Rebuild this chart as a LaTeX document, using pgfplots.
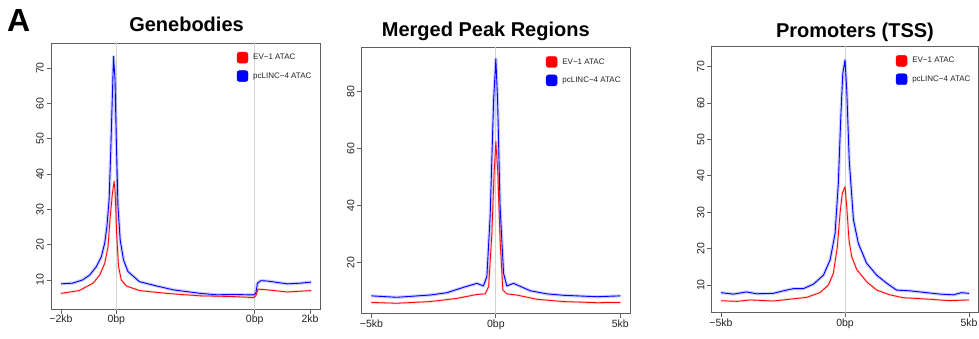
\documentclass[border=0pt]{standalone}
\usepackage{fontspec}
\setmainfont{Liberation Sans}
\usepackage{pgfplots}
\usepackage{pgfplotstable}
\pgfplotsset{compat=1.18}

\definecolor{evred}{RGB}{255,0,0}
\definecolor{pcblue}{RGB}{0,0,255}
\definecolor{boxgray}{RGB}{95,95,95}
\definecolor{vgray}{RGB}{212,212,212}
\definecolor{txt}{RGB}{35,35,35}

% Genebodies: x units: -2kb=0, TSS=1, TES=3.5, +2kb=4.5
\pgfplotstableread{
x y
0 8.9
0.21 9.1
0.39 10
0.52 11.4
0.64 13.8
0.73 16.6
0.79 20.4
0.83 25.1
0.87 32.7
0.90 46.8
0.93 62.9
0.95 73.3
0.976 66.7
1.0 49.7
1.03 30.8
1.07 21.3
1.13 15.7
1.21 12.4
1.42 9.5
1.73 8.3
2.03 7.2
2.52 6.2
2.82 5.8
3.12 5.9
3.36 5.8
3.48 5.8
3.52 6.2
3.55 9.1
3.61 9.8
3.73 9.7
4.09 8.9
4.33 9.1
4.52 9.4
}\gbblue
\pgfplotstableread{
x y
0 6.2
0.33 7.0
0.58 9.1
0.70 11.4
0.79 14.7
0.85 19.4
0.89 27.9
0.93 34.6
0.96 37.9
0.98 34.6
1.006 23.2
1.04 13.8
1.09 10
1.18 8.3
1.42 7.0
1.91 6.2
2.52 5.5
3.12 5.3
3.48 5.0
3.52 5.5
3.56 7.4
3.73 7.2
4.09 6.6
4.52 7.0
}\gbred

% Merged peak regions (kb)
\pgfplotstableread{
x y
-5 8.2
-3.98 7.7
-2.64 8.5
-1.97 9.3
-1.30 11.2
-0.76 12.6
-0.50 11.7
-0.36 15
-0.23 36
-0.09 77
0 91.5
0.07 77
0.17 39.6
0.31 16.1
0.44 11.7
0.71 12.6
1.38 10
2.05 8.9
2.72 8.4
4.06 7.9
5 8.2
}\mpblue
\pgfplotstableread{
x y
-5 5.9
-3.98 5.6
-2.64 6.2
-1.57 7.3
-0.76 8.7
-0.43 8.9
-0.29 11.4
-0.16 30.2
-0.07 51.3
0 62.4
0.08 51.3
0.17 27.9
0.28 10.3
0.44 8.9
0.84 8.5
1.65 7.0
2.72 6.2
4.06 5.8
5 5.9
}\mpred

% Promoters (kb)
\pgfplotstableread{
x y
-5 7.9
-4.5 7.5
-3.97 8.1
-3.56 7.6
-2.89 7.7
-2.49 8.4
-2.08 9.0
-1.68 9.0
-1.28 10.2
-0.87 12.7
-0.60 16.9
-0.40 24.2
-0.27 37.9
-0.17 56.2
-0.09 68.1
0 71.8
0.07 63.6
0.17 44.3
0.34 27.9
0.54 21.4
0.87 16.0
1.28 12.7
1.68 10.5
2.08 8.6
2.62 8.4
3.16 8.0
3.83 7.5
4.37 7.3
4.70 7.9
5 7.7
}\prblue
\pgfplotstableread{
x y
-5 5.7
-4.37 5.5
-3.83 5.9
-2.89 5.6
-2.22 6.1
-1.55 6.6
-1.01 7.9
-0.67 10
-0.47 13.2
-0.31 20.5
-0.20 29.7
-0.11 35.2
0 37.0
0.07 31.5
0.16 22.4
0.27 17.8
0.47 14.3
0.87 10.9
1.28 8.6
1.81 7.3
2.35 6.5
3.16 6.2
4.23 5.7
5 5.9
}\prred

\pgfplotsset{
  rstyle/.style={
    scale only axis,
    axis line style={boxgray, line width=0.8pt},
    tick style={boxgray, line width=0.8pt},
    tick align=outside,
    major tick length=4.5pt,
    xtick pos=bottom, ytick pos=left,
    ticklabel style={font=\fontsize{10.5}{12}\selectfont, text=txt},
    /pgf/number format/assume math mode=true,
    yticklabel style={rotate=90, anchor=south, inner sep=2.5pt},
    xticklabel style={anchor=north, inner sep=1.5pt},
    legend style={draw=none, fill=none, font=\fontsize{8}{9}\selectfont, text=txt,
      row sep=7pt, column sep=4pt, anchor=north west, inner sep=0pt, nodes={inner sep=1pt}},
    legend cell align=left,
  },
  halob/.style={pcblue, line width=3.2pt, opacity=0.2, forget plot, line join=round},
  coreb/.style={pcblue, line width=0.9pt, forget plot, line join=round},
  halor/.style={evred, line width=2.2pt, opacity=0.2, forget plot, line join=round},
  corer/.style={evred, line width=0.8pt, forget plot, line join=round},
  vline/.style={vgray, line width=0.9pt, forget plot},
}

\newcommand{\addlegs}{%
  \addlegendimage{legend image code/.code={\fill[evred, rounded corners=2.5pt] (0pt,-5.5pt) rectangle (11pt,5.5pt);}}
  \addlegendentry{EV−1 ATAC}
  \addlegendimage{legend image code/.code={\fill[pcblue, rounded corners=2.5pt] (0pt,-5.5pt) rectangle (11pt,5.5pt);}}
  \addlegendentry{pcLINC−4 ATAC}
}

\begin{document}
\begin{tikzpicture}[x=1pt,y=1pt]
\useasboundingbox (0,0) rectangle (979,338);

\node[anchor=base west, inner sep=0pt, font=\fontsize{32}{34}\selectfont\bfseries] at (7,306) {A};
\node[anchor=base, inner sep=0pt, font=\fontsize{20}{22}\selectfont\bfseries] at (186.5,306) {Genebodies};
\node[anchor=base, inner sep=0pt, font=\fontsize{20}{22}\selectfont\bfseries] at (485.8,301) {Merged Peak Regions};
\node[anchor=base, inner sep=0pt, font=\fontsize{20}{22}\selectfont\bfseries] at (855,300.5) {Promoters (TSS)};

% Panel 1
\begin{axis}[rstyle, at={(51pt,29pt)}, anchor=south west, width=269pt, height=266pt,
  xmin=-0.18, xmax=4.68, ymin=1.78, ymax=77.1,
  xtick={0,1,3.5,4.5}, xticklabels={−2kb,0bp,0bp,2kb},
  ytick={10,20,30,40,50,60,70},
  legend style={at={(0.69,0.967)}}]
\addplot[vline] coordinates {(1,0) (1,100)};
\addplot[vline] coordinates {(3.5,0) (3.5,100)};
\addplot[halob] table[x=x,y=y] {\gbblue};
\addplot[coreb] table[x=x,y=y] {\gbblue};
\addplot[halor] table[x=x,y=y] {\gbred};
\addplot[corer] table[x=x,y=y] {\gbred};
\addlegs
\end{axis}

% Panel 2
\begin{axis}[rstyle, at={(361.7pt,24.7pt)}, anchor=south west, width=268.3pt, height=266pt,
  xmin=-5.39, xmax=5.39, ymin=2.07, ymax=95.6,
  xtick={-5,0,5}, xticklabels={−5kb,0bp,5kb},
  ytick={20,40,60,80},
  legend style={at={(0.686,0.967)}}]
\addplot[vline] coordinates {(0,0) (0,120)};
\addplot[halob] table[x=x,y=y] {\mpblue};
\addplot[coreb] table[x=x,y=y] {\mpblue};
\addplot[halor] table[x=x,y=y] {\mpred};
\addplot[corer] table[x=x,y=y] {\mpred};
\addlegs
\end{axis}

% Panel 3
\begin{axis}[rstyle, at={(711.7pt,25.7pt)}, anchor=south west, width=266.6pt, height=265.6pt,
  xmin=-5.375, xmax=5.375, ymin=2.5, ymax=75.5,
  xtick={-5,0,5}, xticklabels={−5kb,0bp,5kb},
  ytick={10,20,30,40,50,60,70},
  legend style={at={(0.69,0.969)}}]
\addplot[vline] coordinates {(0,0) (0,100)};
\addplot[halob] table[x=x,y=y] {\prblue};
\addplot[coreb] table[x=x,y=y] {\prblue};
\addplot[halor] table[x=x,y=y] {\prred};
\addplot[corer] table[x=x,y=y] {\prred};
\addlegs
\end{axis}
\end{tikzpicture}
\end{document}
